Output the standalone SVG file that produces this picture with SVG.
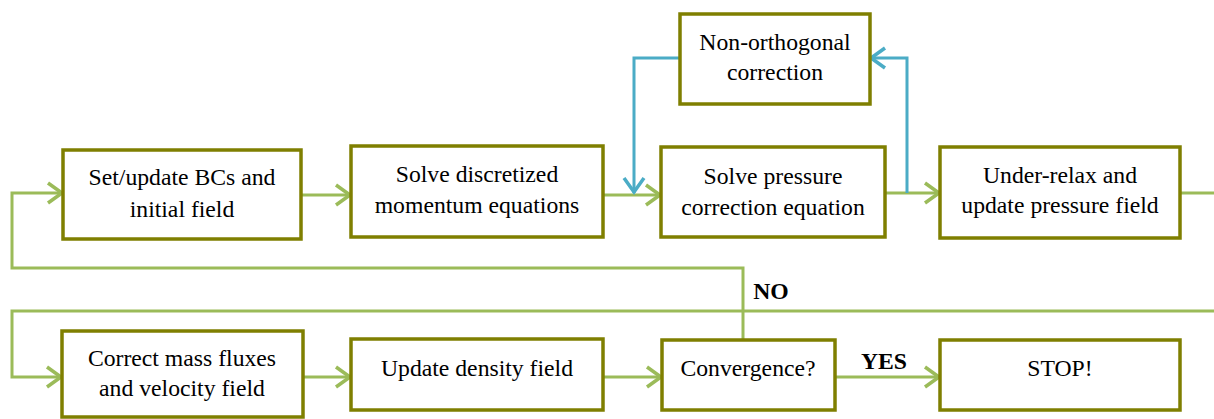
<svg xmlns="http://www.w3.org/2000/svg" width="1214" height="419" viewBox="0 0 1214 419">
<defs>
<style>
.box{fill:#fff;stroke:#7f7f00;stroke-width:3.5}
.t{font-family:"Liberation Serif","Times New Roman",serif;font-size:23.7px;fill:#000;text-anchor:middle}
.b{font-weight:bold}
.g{fill:none;stroke:#9bbb59;stroke-width:3}
.bl{fill:none;stroke:#4bacc6;stroke-width:3}
</style>
<marker id="ag" markerUnits="userSpaceOnUse" markerWidth="30" markerHeight="30" refX="0" refY="0" viewBox="-20 -15 25 30" orient="auto">
<path d="M-15,-10 L-1,0 L-15,10" fill="none" stroke="#9bbb59" stroke-width="3.5"/>
</marker>
<marker id="ab" markerUnits="userSpaceOnUse" markerWidth="30" markerHeight="30" refX="0" refY="0" viewBox="-20 -15 25 30" orient="auto">
<path d="M-15,-10 L-1,0 L-15,10" fill="none" stroke="#4bacc6" stroke-width="3.5"/>
</marker>
</defs>
<rect width="1214" height="419" fill="#fff"/>
<g id="connectors">
<path class="g" d="M301,195 H351" marker-end="url(#ag)"/>
<path class="g" d="M603,195 H661" marker-end="url(#ag)"/>
<path class="g" d="M885,193 H940" marker-end="url(#ag)"/>
<path class="g" d="M1180,193 H1214"/>
<path class="g" d="M743,340 V268 H12 V193 H63" marker-end="url(#ag)"/>
<path class="g" d="M1214,311 H12 V377 H62" marker-end="url(#ag)"/>
<path class="g" d="M303,377 H351" marker-end="url(#ag)"/>
<path class="g" d="M603,377 H662" marker-end="url(#ag)"/>
<path class="g" d="M835,377 H940" marker-end="url(#ag)"/>
<path class="bl" d="M680,58 H634 V193" marker-end="url(#ab)"/>
<path class="bl" d="M907,193 V58 H870" marker-end="url(#ab)"/>
</g>
<g id="n1"><rect class="box" x="63" y="150" width="238" height="89"/>
<text class="t" x="182" y="185">Set/update BCs and</text><text class="t" x="182" y="217">initial field</text></g>
<g id="n2"><rect class="box" x="351" y="146" width="252" height="91"/>
<text class="t" x="477" y="182">Solve discretized</text><text class="t" x="477" y="213">momentum equations</text></g>
<g id="n3"><rect class="box" x="661" y="147" width="224" height="90"/>
<text class="t" x="773" y="184">Solve pressure</text><text class="t" x="773" y="215">correction equation</text></g>
<g id="n4"><rect class="box" x="680" y="14" width="190" height="90"/>
<text class="t" x="775" y="50">Non-orthogonal</text><text class="t" x="775" y="80">correction</text></g>
<g id="n5"><rect class="box" x="940" y="147" width="240" height="91"/>
<text class="t" x="1060" y="183">Under-relax and</text><text class="t" x="1060" y="213">update pressure field</text></g>
<g id="n6"><rect class="box" x="62" y="331" width="241" height="86"/>
<text class="t" x="182" y="366">Correct mass fluxes</text><text class="t" x="182" y="396">and velocity field</text></g>
<g id="n7"><rect class="box" x="351" y="339" width="252" height="71"/>
<text class="t" x="477" y="376">Update density field</text></g>
<g id="n8"><rect class="box" x="662" y="340" width="173" height="70"/>
<text class="t" x="748" y="376">Convergence?</text></g>
<g id="n9"><rect class="box" x="940" y="340" width="240" height="70"/>
<text class="t" x="1060" y="376">STOP!</text></g>
<text class="t b" x="771" y="299">NO</text>
<text class="t b" x="884" y="369">YES</text>
</svg>
